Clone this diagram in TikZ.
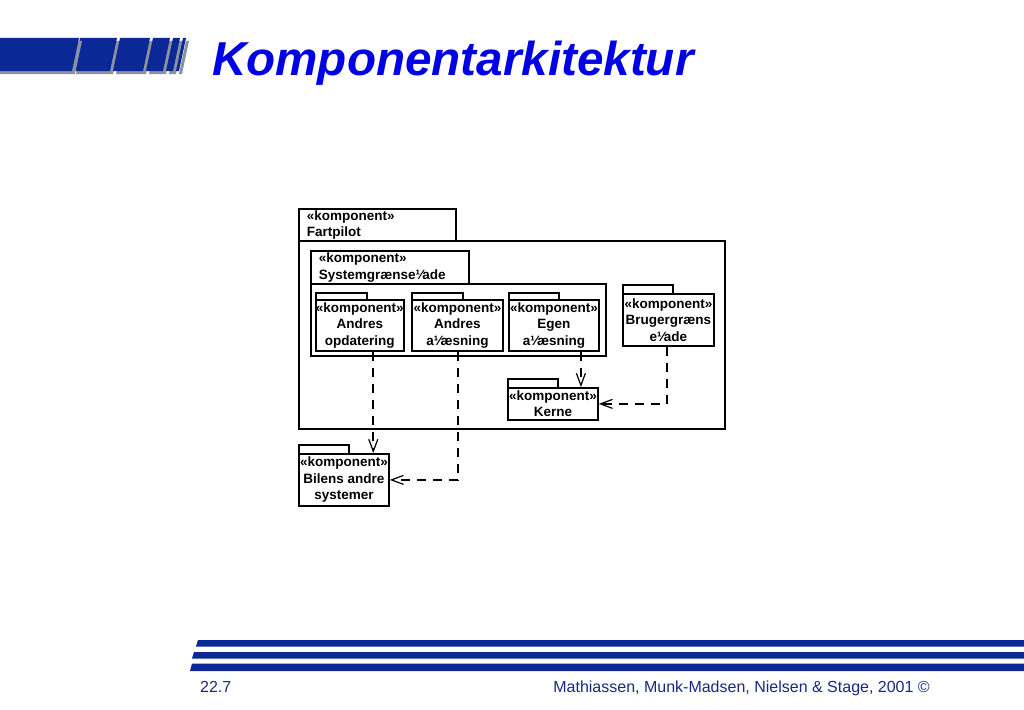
\documentclass[tikz,border=0pt]{standalone}
\usepackage{fontspec}
\setmainfont{Liberation Sans}
\usetikzlibrary{arrows.meta}
\definecolor{barblue}{RGB}{10,40,150}
\definecolor{shadowgrey}{RGB}{140,145,160}
\definecolor{titleblue}{RGB}{0,0,230}
\definecolor{footblue}{RGB}{25,40,130}
\newcommand{\labfont}{\fontsize{13.5}{16.5}\selectfont\bfseries}
\newcommand{\flg}{¹⁄}
\tikzset{
  body/.style={draw, line width=1.8pt, inner sep=0pt, anchor=north west, align=center, font=\labfont},
  tabbox/.style={draw, line width=1.6pt, inner sep=0pt, anchor=north west},
  headtab/.style={draw, line width=1.8pt, inner ysep=0pt, inner xsep=8pt, anchor=north west, align=left, font=\labfont},
  dep/.style={line width=1.6pt, dash pattern=on 9pt off 7pt, -{Straight Barb[length=12pt,width=9pt,line width=1.2pt]}},
  hbar/.style={fill=barblue},
  hshadow/.style={fill=shadowgrey}
}
\begin{document}
\begin{tikzpicture}[x=1pt,y=-1pt]
\useasboundingbox (0,0) rectangle (1024,709);
% title bars
\foreach \bl/\br in {73/110,113/143,146/163,166/173,176/179}{
  \fill[hshadow] (\bl+3,74) -- (\br+3,74) -- (\br+10,41) -- (\bl+10,41) -- cycle;
  \fill[hbar] (\bl,71) -- (\br,71) -- (\br+7,38) -- (\bl+7,38) -- cycle;
}
\fill[hshadow] (0,74) -- (75,74) -- (82,41) -- (0,41) -- cycle;
\fill[hbar] (0,71) -- (72,71) -- (79,38) -- (0,38) -- cycle;
\node[anchor=base west, inner sep=0pt, text=titleblue, font=\fontsize{47.6}{56}\selectfont\bfseries\itshape] (title) at (212,75) {Komponentarkitektur};
% footer
\fill[hbar] (198,640) -- (1024,640) -- (1024,646.5) -- (196,646.5) -- cycle;
\fill[hbar] (194,652) -- (1024,652) -- (1024,658.5) -- (192,658.5) -- cycle;
\fill[hbar] (192,663.5) -- (1024,663.5) -- (1024,671) -- (190,671) -- cycle;
\node[anchor=base west, inner sep=0pt, text=footblue, font=\fontsize{16}{18}\selectfont] (pg) at (200,692) {22.7};
\node[anchor=base east, inner sep=0pt, text=footblue, font=\fontsize{16}{18}\selectfont] (cr) at (930,692) {Mathiassen, Munk-Madsen, Nielsen \& Stage, 2001 ©};
% Fartpilot
\node[body, minimum width=426pt, minimum height=188pt] (fp) at (298,240) {};
\node[headtab, text width=141pt, minimum height=32pt] (fpt) at (298,208) {«komponent»\\Fartpilot};
% Systemgraenseflade
\node[body, minimum width=295pt, minimum height=72pt] (sg) at (310,283) {};
\node[headtab, text width=142pt, minimum height=33pt] (sgt) at (310,250) {«komponent»\\Systemgrænse\flg ade};
% inner components
\node[tabbox, minimum width=51pt, minimum height=7pt] (aot) at (315,292) {};
\node[body, minimum width=87pt, minimum height=51pt] (ao) at (315,299) {«komponent»\\Andres\\opdatering};
\node[tabbox, minimum width=51pt, minimum height=7pt] (aat) at (411,292) {};
\node[body, minimum width=91pt, minimum height=51pt] (aa) at (411,299) {«komponent»\\Andres\\a\flg æsning};
\node[tabbox, minimum width=50pt, minimum height=7pt] (egt) at (508,292) {};
\node[body, minimum width=90pt, minimum height=51pt] (eg) at (508,299) {«komponent»\\Egen\\a\flg æsning};
% Brugergraenseflade
\node[tabbox, minimum width=50pt, minimum height=9pt] (bgt) at (622,284) {};
\node[body, minimum width=91pt, minimum height=52pt] (bg) at (622,293) {«komponent»\\Brugergræns\\e\flg ade};
% Kerne
\node[tabbox, minimum width=50pt, minimum height=9pt] (ket) at (507,378) {};
\node[body, minimum width=90pt, minimum height=32pt] (ke) at (507,387) {«komponent»\\Kerne};
% Bilens andre systemer
\node[tabbox, minimum width=50pt, minimum height=9pt] (bit) at (298,444) {};
\node[body, minimum width=90pt, minimum height=52pt] (bi) at (298,453) {«komponent»\\Bilens andre\\systemer};
% dependencies
\coordinate (d1) at ([xshift=13.5pt]ao.south);
\coordinate (d3) at ([xshift=27pt]eg.south);
\draw[dep] (d1) -- (d1 |- bi.north);
\draw[dep] ([xshift=0.5pt]aa.south) |- (bi.east);
\draw[dep] (d3) -- (d3 |- ke.north);
\draw[dep] ([xshift=-1.5pt]bg.south) |- (ke.east);
\end{tikzpicture}
\end{document}
